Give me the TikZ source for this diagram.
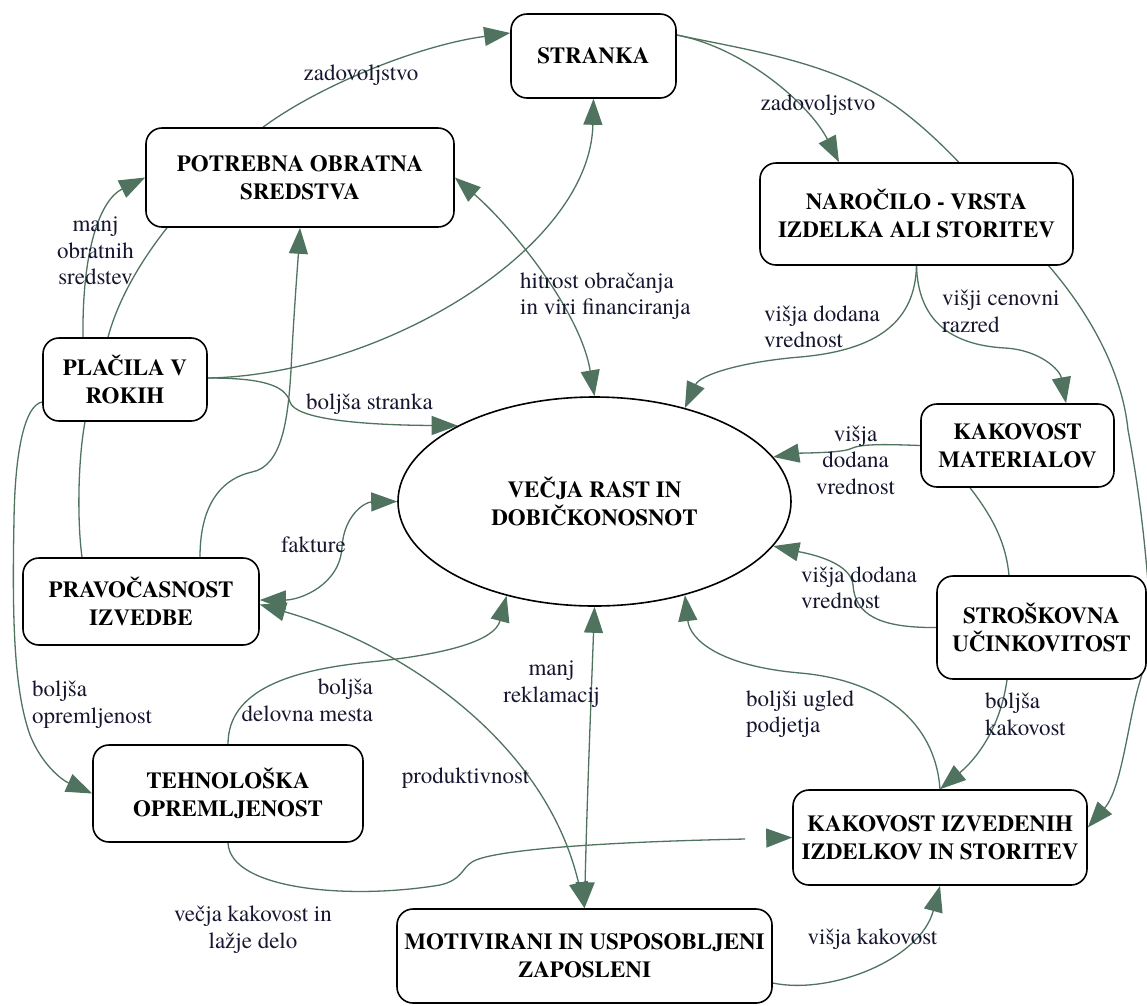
\documentclass[tikz,border=0pt]{standalone}
\usepackage{fontspec}
\IfFontExistsTF{texgyretermes-regular.otf}
  {\setmainfont{texgyretermes}[Extension=.otf,UprightFont=*-regular,
     BoldFont=*-bold,ItalicFont=*-italic,BoldItalicFont=*-bolditalic]}
  {\setmainfont{Liberation Serif}}
\usetikzlibrary{arrows.meta,shapes.geometric,backgrounds}
\definecolor{edgecol}{RGB}{80,115,96}
\definecolor{labelcol}{RGB}{22,22,48}

\begin{document}
\begin{tikzpicture}[x=1pt,y=-1pt,
  box/.style={draw=black,line width=1.6pt,rounded corners=16pt,fill=white,
    align=center,inner sep=0pt,font=\bfseries\fontsize{23}{28}\selectfont},
  goal/.style={ellipse,draw=black,line width=1.6pt,fill=white,align=center,
    inner sep=0pt,font=\bfseries\fontsize{23}{28}\selectfont},
  conn/.style={draw=edgecol,line width=1.3pt},
  tip/.style={conn,-{Triangle[length=26pt,width=19pt]}},
  both/.style={conn,{Triangle[length=26pt,width=19pt]}-{Triangle[length=26pt,width=19pt]}},
  lbl/.style={text=labelcol,inner sep=0pt,font=\fontsize{23}{26.5}\selectfont}]

\useasboundingbox (0,0) rectangle (1147,1005);

% concepts
\node[box,minimum width=165pt,minimum height=84pt]  (stranka)  at (593.5,56)    {STRANKA};
\node[box,minimum width=308pt,minimum height=99pt]  (potrebna) at (300,177.5)   {POTREBNA OBRATNA\\SREDSTVA};
\node[box,minimum width=313pt,minimum height=102pt] (narocilo) at (916.5,214)   {NAROČILO - VRSTA\\IZDELKA ALI STORITEV};
\node[box,minimum width=164pt,minimum height=83pt]  (placila)  at (125,379.5)   {PLAČILA V\\ROKIH};
\node[box,minimum width=193pt,minimum height=83pt]  (kakmat)   at (1017.5,445.5) {KAKOVOST\\MATERIALOV};
\node[goal,minimum width=393pt,minimum height=209pt] (ell)     at (594.5,501.5) {VEČJA RAST IN\\DOBIČKONOSNOT};
\node[box,minimum width=209pt,minimum height=103pt] (strosk)   at (1041.5,627.5) {STROŠKOVNA\\UČINKOVITOST};
\node[box,minimum width=236pt,minimum height=87pt]  (pravoc)   at (141,601.5)   {PRAVOČASNOST\\IZVEDBE};
\node[box,minimum width=270pt,minimum height=97pt]  (tehno)    at (228,793.5)   {TEHNOLOŠKA\\OPREMLJENOST};
\node[box,minimum width=294pt,minimum height=95pt]  (kakizv)   at (940,837.5)   {KAKOVOST IZVEDENIH\\IZDELKOV IN STORITEV};
\node[box,minimum width=375pt,minimum height=94pt]  (motiv)    at (584.5,956)   {MOTIVIRANI IN USPOSOBLJENI\\ZAPOSLENI};

\coordinate (gapA) at (745,839);
\coordinate (gapB) at (767,838);

\begin{pgfonlayer}{background}
\fill[white] (0,0) rectangle (1147,1005);

% top arc
\draw[tip] ([xshift=-37pt]potrebna.north) .. controls (320,85) and (420,45) .. ([yshift=23pt]stranka.west);
\draw[tip] ([yshift=21pt]stranka.east) .. controls (745,48) and (810,105) .. ([xshift=-77.5pt]narocilo.north);
\draw[tip] ([yshift=21pt]stranka.east) .. controls (753,51) and (838,63) .. (901,110)
   .. controls (958,153) and (1001,211) .. (1048,265)
   .. controls (1088,311) and (1122,370) .. (1128,430)
   .. controls (1136,473) and (1142,516) .. (1146,560)
   .. controls (1150,600) and (1152,642) .. (1140,681)
   .. controls (1128,720) and (1122,788) .. ([yshift=10pt]kakizv.east);

% left side
\draw[both] (potrebna.east) .. controls (510,225) and (580,310) .. (ell.north);
\draw[tip] ([yshift=1.5pt]placila.east) .. controls (380,375) and (590,250) .. (stranka.south);
\draw[tip] ([yshift=1.5pt]placila.east) .. controls (262,378) and (285,385) .. (290,402)
   .. controls (295,419) and (360,425) .. (ell.151);
\draw[tip] ([xshift=-42pt]placila.north) .. controls (82,250) and (100,200) .. (potrebna.west);
\draw[conn] ([xshift=-133pt]potrebna.south) .. controls (140,262) and (118,300) .. ([xshift=-17pt]placila.north);
\draw[conn] ([xshift=-40pt]placila.south) .. controls (78,460) and (77,520) .. ([xshift=-59pt]pravoc.north);
\draw[tip] ([xshift=59pt]pravoc.north) .. controls (200,500) and (225,478) .. (252,472)
   .. controls (282,466) and (288,420) .. (291,370)
   .. controls (294,310) and (298,260) .. (potrebna.south);
\draw[tip] ([yshift=-22.5pt]placila.west) .. controls (25,405) and (15,450) .. (14,520)
   .. controls (12,620) and (14,690) .. (30,735)
   .. controls (42,765) and (62,780) .. (tehno.west);
\draw[both] ([yshift=1.5pt]pravoc.east) .. controls (300,600) and (340,585) .. (342,547)
   .. controls (344,515) and (365,502) .. (ell.west);
\draw[both] ([yshift=-3pt]pravoc.east) .. controls (400,645) and (545,740) .. (motiv.north);

% bottom
\draw[both] (ell.south) .. controls (591,700) and (587,800) .. (motiv.north);
\draw[tip] (tehno.north) .. controls (228,690) and (290,670) .. (370,662)
   .. controls (450,654) and (495,640) .. (ell.227.5);
\draw[conn] (tehno.south) .. controls (230,890) and (350,900) .. (440,885)
   .. controls (462,880) and (462,868) .. (472,862)
   .. controls (490,850) and (600,842) .. (gapA);
\draw[tip] (gapB) -- (kakizv.west);
\draw[tip] ([yshift=-27pt]motiv.east) .. controls (830,995) and (920,960) .. (kakizv.south);
\draw[tip] (kakizv.north) .. controls (935,720) and (880,680) .. (800,673)
   .. controls (720,666) and (690,640) .. (ell.-46.6);

% right side
\draw[tip] ([xshift=-34.5pt]strosk.south) .. controls (1000,730) and (975,760) .. (kakizv.north);
\draw[tip] (strosk.west) .. controls (880,628) and (855,615) .. (853,585)
   .. controls (851,560) and (800,552) .. (ell.-14.9);
\draw[tip] (kakmat.west) .. controls (880,444) and (860,444) .. (850,449)
   .. controls (840,453) and (800,453) .. (ell.14.9);
\draw[conn] ([xshift=-47.5pt]kakmat.south) .. controls (995,520) and (1006,545) .. ([xshift=-32.5pt]strosk.north);
\draw[tip] (narocilo.south) .. controls (915,320) and (880,350) .. (800,357)
   .. controls (740,362) and (700,375) .. (ell.46.6);
\draw[tip] (narocilo.south) .. controls (918,320) and (950,345) .. (1005,348)
   .. controls (1040,350) and (1060,370) .. ([xshift=48.5pt]kakmat.north);
\end{pgfonlayer}

% connector labels
\node[lbl] (lzad1) at (361,75) {zadovoljstvo};
\node[lbl] (lzad2) at (818,105) {zadovoljstvo};
\node[lbl,align=center] (lmanj) at (95.5,251) {manj\\obratnih\\sredstev};
\node[lbl,align=left,anchor=west] (lhitr) at (520,296) {hitrost obračanja\\in viri financiranja};
\node[lbl,align=left,anchor=west] (lvdv1) at (764,327) {višja dodana\\vrednost};
\node[lbl,align=left,anchor=west] (lcen) at (942,311.5) {višji cenovni\\razred};
\node[lbl] (lstr) at (369.5,404) {boljša stranka};
\node[lbl,align=center] (lvdv2) at (855.5,460) {višja\\dodana\\vrednost};
\node[lbl,align=left,anchor=west] (lvdv3) at (801,588) {višja dodana\\vrednost};
\node[lbl] (lfak) at (313.5,545) {fakture};
\node[lbl,align=left,anchor=west] (lopr) at (32,704.5) {boljša\\opremljenost};
\node[lbl,align=right,anchor=east] (ldel) at (373,700.5) {boljša\\delovna mesta};
\node[lbl,align=center] (lrek) at (551.5,684) {manj\\reklamacij};
\node[lbl] (lprod) at (465.5,778.5) {produktivnost};
\node[lbl,align=left,anchor=west] (lugl) at (746,714) {boljši ugled\\podjetja};
\node[lbl,align=left,anchor=west] (lkak) at (985,714.5) {boljša\\kakovost};
\node[lbl,align=center] (llaz) at (253,929.5) {večja kakovost in\\lažje delo};
\node[lbl] (lvk) at (872.5,939.5) {višja kakovost};
\end{tikzpicture}
\end{document}
